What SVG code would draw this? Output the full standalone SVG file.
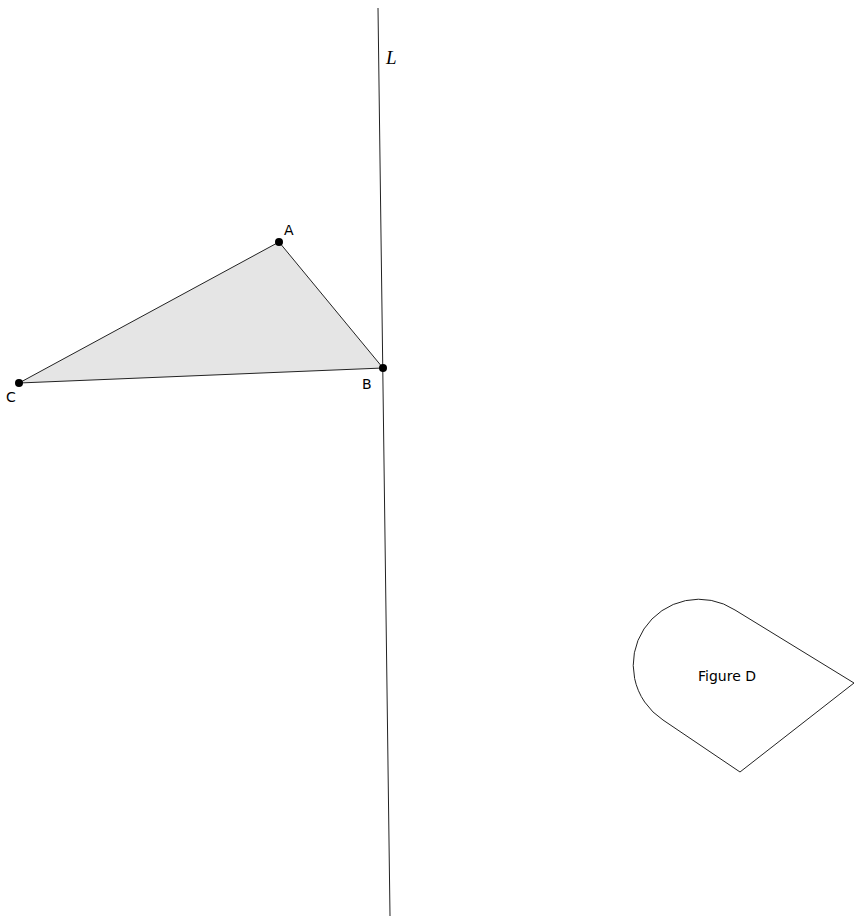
<svg xmlns="http://www.w3.org/2000/svg" width="854" height="918" viewBox="0 0 854 918">
<style>
.lbl{font-family:"DejaVu Sans",sans-serif;font-size:14px;fill:#000}
.pt{fill:#000}
.edge{stroke:#222;stroke-width:1;fill:none}
</style>
<rect width="854" height="918" fill="#fff"/>
<g id="connectors">
<line class="edge" x1="378" y1="8" x2="390" y2="916"/>
</g>
<g id="lineL">
<text x="386" y="64" font-family="Liberation Serif,serif" font-style="italic" font-size="19">L</text>
</g>
<g id="triangle">
<polygon points="279,242 383,368 19,383" fill="#e5e5e5" stroke="#222" stroke-width="1"/>
</g>
<g id="A"><circle class="pt" cx="279" cy="242" r="4"/><text class="lbl" x="284" y="235">A</text></g>
<g id="B"><circle class="pt" cx="383" cy="368" r="4"/><text class="lbl" x="362" y="389">B</text></g>
<g id="C"><circle class="pt" cx="19" cy="383" r="4"/><text class="lbl" x="6" y="402">C</text></g>
<g id="figureD">
<path class="edge" d="M 735 610 A 65 65 0 1 0 663 720 L 740 772 L 854 683 Z"/>
<text class="lbl" x="727" y="681" text-anchor="middle" font-size="15.5">Figure D</text>
</g>
</svg>
